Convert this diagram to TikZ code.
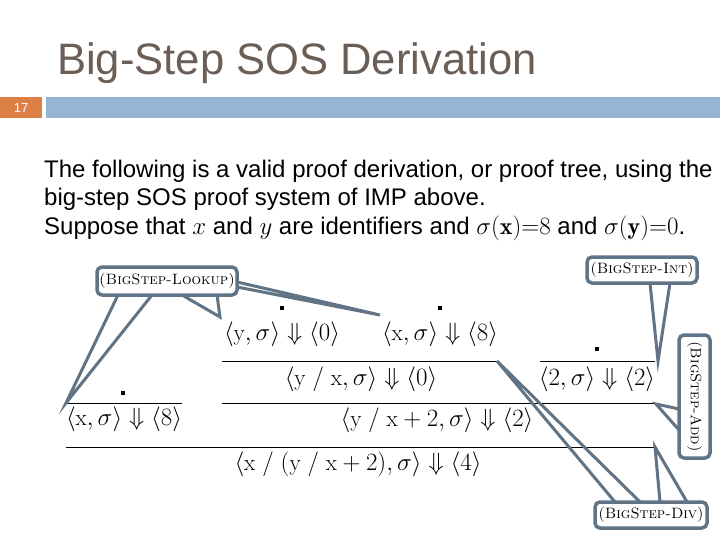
\documentclass[tikz,border=0pt]{standalone}
\usepackage{fontspec}
\newfontfamily\arial{Liberation Sans}
\usetikzlibrary{calc}
\definecolor{titlecol}{RGB}{106,94,86}
\definecolor{barblue}{RGB}{148,182,210}
\definecolor{numorange}{RGB}{221,128,71}
\definecolor{callcol}{RGB}{96,116,134}
\tikzset{
  callbox/.style={draw=callcol, line width=3.5pt, rounded corners=5pt, fill=white,
    inner sep=0pt, font=\fontsize{15}{15}\selectfont},
  wedge/.style={draw=callcol, line width=3pt, line join=miter},
  judg/.style={font=\fontsize{23}{27}\selectfont, inner sep=0pt},
  dotsq/.style={fill=black, minimum size=4pt, inner sep=0pt},
  rulebar/.style={line width=1pt, black},
  bodytext/.style={font=\arial\fontsize{24}{28}\selectfont, inner sep=0pt, anchor=base west},
}
\begin{document}
\begin{tikzpicture}[x=1pt,y=-1pt]
\useasboundingbox (0,0) rectangle (720,540);
\fill[white] (0,0) rectangle (720,540);

% header
\node[anchor=base west, inner sep=0pt, text=titlecol, font=\arial\fontsize{44}{44}\selectfont, xscale=0.99] (title) at (57,75) {Big-Step SOS Derivation};
\node[fill=numorange, anchor=north west, minimum width=42pt, minimum height=21pt, inner sep=0pt,
      text=white, font=\arial\fontsize{13}{13}\selectfont] (num) at (0,97) {17};
\node[fill=barblue, anchor=north west, minimum width=674pt, minimum height=21pt, inner sep=0pt] (band) at (46,97) {};

% body text
\node[bodytext] (l1) at (44,178) {The following is a valid proof derivation, or proof tree, using the};
\node[bodytext] (l2) at (44,206) {big-step SOS proof system of IMP above.};
\node[bodytext] (l3) at (44,234) {Suppose that $x$ and $y$ are identifiers and $\sigma(\mathbf{x}){=}8$ and $\sigma(\mathbf{y}){=}0$.};

% proof tree
\node[dotsq] (d1) at (282,308) {};
\node[judg] (j1) at (282,334) {$\langle \mathrm{y}, \sigma\rangle \Downarrow \langle 0\rangle$};
\node[dotsq] (d2) at (440,308) {};
\node[judg] (j2) at (440,334) {$\langle \mathrm{x}, \sigma\rangle \Downarrow \langle 8\rangle$};
\coordinate (b1l) at (222,361);
\coordinate (b1r) at (497,361);
\draw[rulebar] (b1l) -- (b1r);
\node[judg] (j3) at (361,379) {$\langle \mathrm{y}\ /\ \mathrm{x}, \sigma\rangle \Downarrow \langle 0\rangle$};

\node[dotsq] (d3) at (597,349) {};
\coordinate (b2l) at (540,361);
\coordinate (b2r) at (655,361);
\draw[rulebar] (b2l) -- (b2r);
\node[judg] (j4) at (597,379) {$\langle 2, \sigma\rangle \Downarrow \langle 2\rangle$};

\node[dotsq] (d4) at (123,393) {};
\coordinate (b3l) at (66,403);
\coordinate (b3r) at (182,403);
\draw[rulebar] (b3l) -- (b3r);
\node[judg] (j5) at (124,419) {$\langle \mathrm{x}, \sigma\rangle \Downarrow \langle 8\rangle$};

\coordinate (b4l) at (222,403);
\coordinate (b4r) at (655,403);
\draw[rulebar] (b4l) -- (b4r);
\node[judg] (j6) at (437,420) {$\langle \mathrm{y}\ /\ \mathrm{x} + 2, \sigma\rangle \Downarrow \langle 2\rangle$};

\coordinate (b5l) at (66,447);
\coordinate (b5r) at (655,447);
\draw[rulebar] (b5l) -- (b5r);
\node[judg] (j7) at (358,464) {$\langle \mathrm{x}\ /\ (\mathrm{y}\ /\ \mathrm{x} + 2), \sigma\rangle \Downarrow \langle 4\rangle$};

% callout boxes (positions)
\coordinate (lkc) at (167,281);
\coordinate (intc) at (642,270);
\coordinate (addc) at (694.5,396.5);
\coordinate (divc) at (651,515);

% wedge tips
\coordinate (tipA) at (220,317);
\coordinate (tipB) at (380,315);

% wedges
\draw[wedge] ($(lkc)+(-49,14)$) -- (b3l) -- ($(lkc)+(-15,14)$);
\draw[wedge] ($(lkc)+(15,14)$) -- (tipA) -- ($(lkc)+(50,14)$);
\draw[wedge] ($(lkc)+(70,1)$) -- (tipB) -- ($(lkc)+(70,6)$);
\draw[wedge] ($(intc)+(8,13)$) -- ($(b2r)+(3,0)$) -- ($(intc)+(28,13)$);
\draw[wedge] ($(addc)+(-15.5,12.5)$) -- ($(b4r)+(1,1)$) -- ($(addc)+(-15.5,33.5)$);
\draw[wedge] ($(divc)+(9,-13)$) -- (b5r) -- ($(divc)+(36,-13)$);
\draw[wedge] ($(divc)+(-36,-13)$) -- (b1r) -- ($(divc)+(-11,-13)$);

% callout boxes
\node[callbox, minimum width=140pt, minimum height=28pt] (lookup) at (lkc) {\textsc{(BigStep-Lookup)}};
\node[callbox, minimum width=110pt, minimum height=26pt] (int) at (intc) {\textsc{(BigStep-Int)}};
\node[callbox, rotate=-90, minimum width=123pt, minimum height=31pt] (add) at (addc) {\textsc{(BigStep-Add)}};
\node[callbox, minimum width=112pt, minimum height=26pt] (div) at (divc) {\textsc{(BigStep-Div)}};
\end{tikzpicture}
\end{document}
